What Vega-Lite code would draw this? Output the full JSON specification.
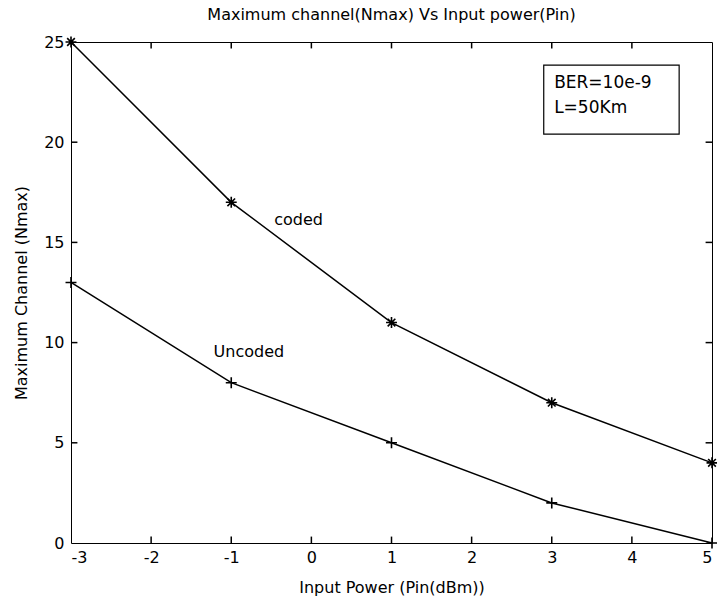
{
  "$schema": "https://vega.github.io/schema/vega-lite/v6.json",
  "width": 641,
  "height": 501,
  "autosize": {"type": "none"},
  "padding": {"left": 71, "top": 42, "right": 5, "bottom": 56},
  "background": "white",
  "config": {
    "font": "DejaVu Sans",
    "view": {"stroke": "black", "strokeWidth": 1},
    "axis": {
      "domainColor": "black",
      "labelColor": "black",
      "titleColor": "black",
      "labelFont": "DejaVu Sans",
      "titleFont": "DejaVu Sans",
      "labelFontSize": 16,
      "titleFontSize": 16,
      "titleFontWeight": "normal",
      "grid": false
    }
  },
  "title": {
    "text": "Maximum channel(Nmax) Vs Input power(Pin)",
    "font": "DejaVu Sans",
    "fontSize": 16,
    "fontWeight": "normal",
    "color": "black",
    "anchor": "middle",
    "offset": 10
  },
  "datasets": {
    "curves": [
      {"series": "coded", "pin": -3, "nmax": 25},
      {"series": "coded", "pin": -1, "nmax": 17},
      {"series": "coded", "pin": 1, "nmax": 11},
      {"series": "coded", "pin": 3, "nmax": 7},
      {"series": "coded", "pin": 5, "nmax": 4},
      {"series": "uncoded", "pin": -3, "nmax": 13},
      {"series": "uncoded", "pin": -1, "nmax": 8},
      {"series": "uncoded", "pin": 1, "nmax": 5},
      {"series": "uncoded", "pin": 3, "nmax": 2},
      {"series": "uncoded", "pin": 5, "nmax": 0}
    ],
    "xticks": [{"v": -2}, {"v": -1}, {"v": 0}, {"v": 1}, {"v": 2}, {"v": 3}, {"v": 4}],
    "yticks": [{"v": 5}, {"v": 10}, {"v": 15}, {"v": 20}],
    "labels": [
      {"label": "coded", "pin": -0.16, "nmax": 16.1},
      {"label": "Uncoded", "pin": -0.78, "nmax": 9.55}
    ],
    "box": [
      {"x": 2.9, "x2": 4.59, "y": 23.85, "y2": 20.4}
    ],
    "boxtext": [
      {"t": "BER=10e-9", "pin": 3.03, "nmax": 22.95},
      {"t": "L=50Km", "pin": 3.03, "nmax": 21.7}
    ]
  },
  "layer": [
    {
      "data": {"name": "curves"},
      "mark": {"type": "line", "interpolate": "linear", "color": "black", "strokeWidth": 1.5},
      "encoding": {
        "x": {"field": "pin", "type": "quantitative", "scale": {"domain": [-3, 5], "nice": false, "zero": false},
              "axis": {"orient": "bottom", "ticks": false, "domain": false,
                       "values": [-3, -2, -1, 0, 1, 2, 3, 4, 5], "labelPadding": 6,
                       "labelExpr": "'' + datum.value", "title": "Input Power (Pin(dBm))", "titlePadding": 14}},
        "y": {"field": "nmax", "type": "quantitative", "scale": {"domain": [0, 25], "nice": false},
              "axis": {"orient": "left", "ticks": false, "domain": false,
                       "values": [0, 5, 10, 15, 20, 25], "labelPadding": 7,
                       "title": "Maximum Channel (Nmax)", "titlePadding": 14}},
        "detail": {"field": "series"}
      }
    },
    {
      "data": {"name": "xticks"},
      "mark": {"type": "rule", "color": "black", "strokeWidth": 1.5},
      "encoding": {
        "x": {"field": "v", "type": "quantitative"},
        "y": {"datum": 0, "type": "quantitative"},
        "y2": {"datum": 0.32}
      }
    },
    {
      "data": {"name": "xticks"},
      "mark": {"type": "rule", "color": "black", "strokeWidth": 1.5},
      "encoding": {
        "x": {"field": "v", "type": "quantitative"},
        "y": {"datum": 25, "type": "quantitative"},
        "y2": {"datum": 24.68}
      }
    },
    {
      "data": {"name": "yticks"},
      "mark": {"type": "rule", "color": "black", "strokeWidth": 1.5},
      "encoding": {
        "y": {"field": "v", "type": "quantitative"},
        "x": {"datum": -3, "type": "quantitative"},
        "x2": {"datum": -2.92}
      }
    },
    {
      "data": {"name": "yticks"},
      "mark": {"type": "rule", "color": "black", "strokeWidth": 1.5},
      "encoding": {
        "y": {"field": "v", "type": "quantitative"},
        "x": {"datum": 5, "type": "quantitative"},
        "x2": {"datum": 4.92}
      }
    },
    {
      "data": {"name": "curves"},
      "mark": {"type": "point", "filled": false, "color": "black", "strokeWidth": 1.6, "size": 120, "opacity": 1},
      "encoding": {
        "x": {"field": "pin", "type": "quantitative"},
        "y": {"field": "nmax", "type": "quantitative"},
        "shape": {"field": "series", "type": "nominal", "legend": null,
                  "scale": {"domain": ["coded", "uncoded"], "range": ["M-1,0L1,0M0,-1L0,1M-0.7,-0.7L0.7,0.7M-0.7,0.7L0.7,-0.7", "M-1,0L1,0M0,-1L0,1"]}}
      }
    },
    {
      "data": {"name": "labels"},
      "mark": {"type": "text", "font": "DejaVu Sans", "fontSize": 16, "color": "black", "align": "center", "baseline": "middle"},
      "encoding": {
        "x": {"field": "pin", "type": "quantitative"},
        "y": {"field": "nmax", "type": "quantitative"},
        "text": {"field": "label"}
      }
    },
    {
      "data": {"name": "box"},
      "mark": {"type": "rect", "fill": "white", "stroke": "black", "strokeWidth": 1.2},
      "encoding": {
        "x": {"field": "x", "type": "quantitative"},
        "x2": {"field": "x2"},
        "y": {"field": "y", "type": "quantitative"},
        "y2": {"field": "y2"}
      }
    },
    {
      "data": {"name": "boxtext"},
      "mark": {"type": "text", "font": "DejaVu Sans", "fontSize": 17, "color": "black", "align": "left", "baseline": "middle"},
      "encoding": {
        "x": {"field": "pin", "type": "quantitative"},
        "y": {"field": "nmax", "type": "quantitative"},
        "text": {"field": "t"}
      }
    }
  ]
}
